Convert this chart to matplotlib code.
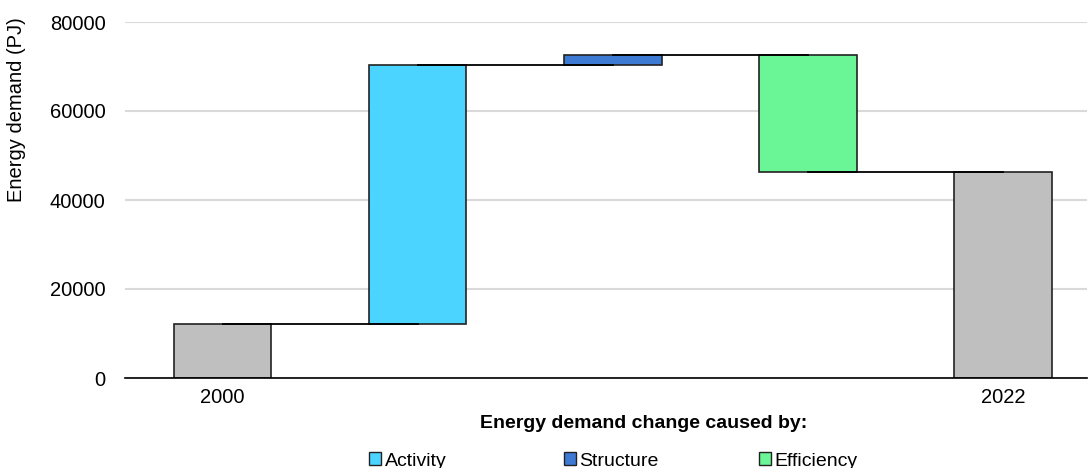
import matplotlib
matplotlib.use("Agg")
import matplotlib.pyplot as plt
from matplotlib.patches import Patch

# data
categories = ["2000", "Activity", "Structure", "Efficiency", "2022"]
tick_labels = ["2000", "", "", "", "2022"]
start_value = 12100
changes = [58200, 2300, -26300]
change_names = ["Activity", "Structure", "Efficiency"]
change_colors = ["#4ad4ff", "#3d7ad4", "#6af596"]
total_color = "#bfbfbf"

plt.rcParams['font.family'] = ['Liberation Sans', 'DejaVu Sans']

fig = plt.figure(figsize=(10.89, 4.68), dpi=100)
ax = fig.add_axes([125 / 1089, 1 - 378 / 468, (1087 - 125) / 1089, (378 - 22) / 468])

# running totals
levels = [start_value]
for c in changes:
    levels.append(levels[-1] + c)
end_value = levels[-1]

x = list(range(len(categories)))
bottoms = [0]
heights = [start_value]
colors = [total_color]
for i, c in enumerate(changes):
    bottoms.append(min(levels[i], levels[i + 1]))
    heights.append(abs(c))
    colors.append(change_colors[i])
bottoms.append(0)
heights.append(end_value)
colors.append(total_color)

ax.bar(x, heights, bottom=bottoms, width=0.5, color=colors,
       edgecolor="#222222", linewidth=1.2, zorder=3)

# connectors from bar centre to next bar centre
for i, lv in enumerate(levels):
    ax.plot([x[i], x[i + 1]], [lv, lv], color="black", lw=1.3, zorder=4)

ax.set_xlim(-0.5, 4.43)
ax.set_ylim(0, 80000)
ax.set_yticks([0, 20000, 40000, 60000, 80000])
ax.set_xticks(x)
ax.set_xticklabels(tick_labels)
ax.tick_params(axis="both", length=0, labelsize=14.5, colors="black")
ax.tick_params(axis="y", pad=14)
ax.tick_params(axis="x", pad=7)
ax.grid(axis="y", color="#d9d9d9", lw=1.5, zorder=0)
for s in ["top", "right", "left"]:
    ax.spines[s].set_visible(False)
ax.spines["bottom"].set_color("black")
ax.spines["bottom"].set_linewidth(1.2)
ax.spines["bottom"].set_zorder(5)

fig.text(17 / 1089, 1 - 110 / 468, "Energy demand (PJ)", rotation=90,
         ha="center", va="center", fontsize=14.5)

fig.text(644 / 1089, 1 - 423 / 468, "Energy demand change caused by:",
         ha="center", va="center", fontsize=14, fontweight="bold")

# one small legend per driver, placed under the matching bar
for i, (name, col) in enumerate(zip(change_names, change_colors)):
    h = Patch(facecolor=col, edgecolor="#222222", lw=1)
    left = ax.transData.transform((x[i + 1] - 0.25, 0))[0] / 1089
    fig.legend([h], [name], loc="center left",
               bbox_to_anchor=(left, 1 - 461 / 468),
               frameon=False, handlelength=0.6, handleheight=0.6,
               handletextpad=0.2, borderaxespad=0, borderpad=0,
               fontsize=14)

fig.savefig("out.png", dpi=100)
